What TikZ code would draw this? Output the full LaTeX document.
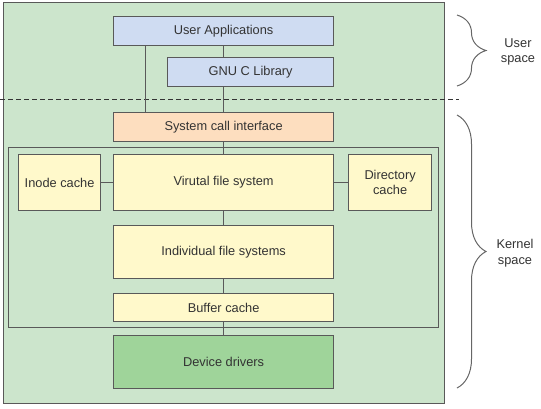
\documentclass[tikz,border=0pt]{standalone}
\usepackage{fontspec}
\setmainfont{Liberation Sans}
\usetikzlibrary{positioning,decorations.pathreplacing}
\definecolor{bgGreen}{HTML}{CCE5CC}
\definecolor{userBlue}{HTML}{CFDCF2}
\definecolor{sysOrange}{HTML}{FDDEBF}
\definecolor{fsYellow}{HTML}{FFF9CB}
\definecolor{drvGreen}{HTML}{9FD49A}
\definecolor{lineGray}{HTML}{595959}
\definecolor{textGray}{HTML}{333333}
\definecolor{braceGray}{HTML}{666666}

\begin{document}
\begin{tikzpicture}[x=1pt,y=-1pt,
  box/.style={draw=lineGray, line width=1.2pt, anchor=north west, inner sep=0pt,
    text=textGray, align=center, font=\fontsize{12.8}{15}\selectfont},
  link/.style={draw=lineGray, line width=1pt},
  brc/.style={decorate, decoration={brace, amplitude=29pt}, draw=braceGray, line width=1pt},
  side/.style={text=textGray, align=center, font=\fontsize{12.8}{15.5}\selectfont}]
\useasboundingbox (0,0) rectangle (541,408);
% frames
\node[box, fill=bgGreen, minimum width=441pt, minimum height=401pt] (system) at (3,2) {};
\draw[textGray, line width=1pt, dash pattern=on 5pt off 3pt] (0,99) -- (459,99);
\node[box, minimum width=430pt, minimum height=180pt] (kframe) at (8,147) {};
% user space
\node[box, fill=userBlue, minimum width=220pt, minimum height=29pt] (apps) at (113,16) {User Applications};
\node[box, fill=userBlue, minimum width=166pt, minimum height=29pt] (glibc) at (167,57) {GNU C Library};
% kernel space
\node[box, fill=sysOrange, minimum width=220pt, minimum height=29pt] (sci) at (113,112) {System call interface};
\node[box, fill=fsYellow, minimum width=82pt, minimum height=56pt] (inode) at (18,154) {Inode cache};
\node[box, fill=fsYellow, minimum width=220pt, minimum height=56pt] (vfs) at (113,154) {Virutal file system};
\node[box, fill=fsYellow, minimum width=83pt, minimum height=56pt] (dcache) at (348,154) {Directory\\cache};
\node[box, fill=fsYellow, minimum width=220pt, minimum height=53pt] (ifs) at (113,225) {Individual file systems};
\node[box, fill=fsYellow, minimum width=220pt, minimum height=28pt] (buf) at (113,293) {Buffer cache};
\node[box, fill=drvGreen, minimum width=220pt, minimum height=53pt] (drv) at (113,335) {Device drivers};
% connectors
\draw[link] ([xshift=32pt]apps.south west) -- ([xshift=32pt]sci.north west);
\draw[link] (apps.south) -- (apps.south |- glibc.north);
\draw[link] (glibc.south -| sci.north) -- (sci.north);
\draw[link] (sci.south) -- (vfs.north);
\draw[link] (inode.east) -- (vfs.west);
\draw[link] (vfs.east) -- (dcache.west);
\draw[link] (vfs.south) -- (ifs.north);
\draw[link] (ifs.south) -- (buf.north);
\draw[link] (buf.south) -- (drv.north);
% braces
\draw[brc] (457,15) -- (457,86);
\draw[brc] (457,115) -- (457,388);
\node[side] (userlbl) at (518,52) {User\\space};
\node[side] (kernlbl) at (515,253) {Kernel\\space};
\end{tikzpicture}
\end{document}
